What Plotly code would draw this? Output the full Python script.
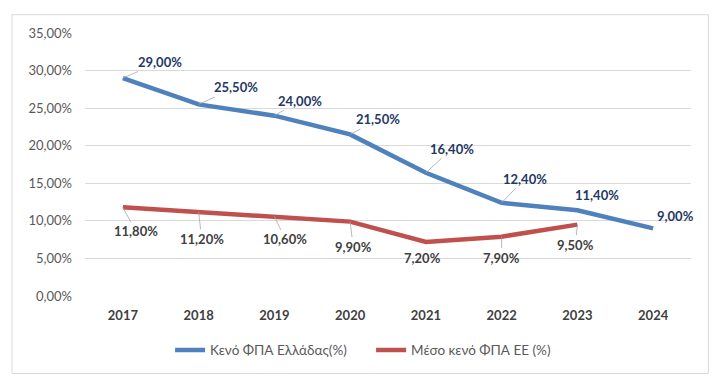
import plotly.graph_objects as go

years = ["2017", "2018", "2019", "2020", "2021", "2022", "2023", "2024"]
greece_gap = [29.0, 25.5, 24.0, 21.5, 16.4, 12.4, 11.4, 9.0]
eu_years = ["2017", "2018", "2019", "2020", "2021", "2022", "2023"]
eu_gap = [11.8, 11.2, 10.6, 9.9, 7.2, 7.9, 9.5]
series_names = ["Κενό ΦΠΑ Ελλάδας(%)", "Μέσο κενό ΦΠΑ ΕΕ (%)"]

gr_off = [(37, -16), (37, -17), (26, -15), (28, -15), (26, -24), (23, -24), (20, -15), (22, -12)]
gr_leader = [True, True, True, True, True, True, False, False]
eu_off = [(13, 24), (3, 27), (11, 23), (3, 25), (-3, 16), (0, 21), (-2, 20)]
eu_leader = [True, True, True, True, False, True, True]

BLUE = "#4F81BD"
RED = "#C0504D"
FONT = "Lato, sans-serif"

def fmt(v):
    return f"{v:.2f}".replace(".", ",") + "%"

fig = go.Figure()
fig.add_trace(go.Scatter(x=years, y=greece_gap, mode="lines", name=series_names[0],
                         line=dict(color=BLUE, width=4.5)))
fig.add_trace(go.Scatter(x=eu_years, y=eu_gap, mode="lines", name=series_names[1],
                         line=dict(color=RED, width=4.5)))

anns = []
for i, (v, (dx, dy), lead) in enumerate(zip(greece_gap, gr_off, gr_leader)):
    anns.append(go.layout.Annotation(
        x=i, y=v, xref="x", yref="y", text="<b>" + fmt(v) + "</b>",
        ax=dx, ay=dy, showarrow=True, arrowhead=0, arrowwidth=0.8,
        arrowcolor="#A6A6A6" if lead else "rgba(0,0,0,0)",
        font=dict(family=FONT, size=13, color="#1F3864")))
for i, (v, (dx, dy), lead) in enumerate(zip(eu_gap, eu_off, eu_leader)):
    anns.append(go.layout.Annotation(
        x=i, y=v, xref="x", yref="y", text="<b>" + fmt(v) + "</b>",
        ax=dx, ay=dy, showarrow=True, arrowhead=0, arrowwidth=0.8,
        arrowcolor="#A6A6A6" if lead else "rgba(0,0,0,0)",
        font=dict(family=FONT, size=13, color="#404040")))

fig.update_layout(
    annotations=anns,
    width=727, height=385,
    margin=dict(l=85, r=36, t=33, b=89),
    paper_bgcolor="white", plot_bgcolor="white",
    separators=",.",
    font=dict(family=FONT, size=13, color="#595959"),
    showlegend=True,
    legend=dict(orientation="h", x=0.1404, xanchor="left", y=-0.206, yanchor="middle",
                entrywidth=156, entrywidthmode="pixels",
                font=dict(family=FONT, size=13.5, color="#595959")),
    shapes=[dict(type="rect", xref="paper", yref="paper", x0=-0.1205, x1=1.0287,
                 y0=-0.2945, y1=1.0695, line=dict(color="#D9D9D9", width=1),
                 layer="below")],
    xaxis=dict(type="category", showgrid=False, zeroline=False, showline=False,
               ticks="", tickfont=dict(family=FONT, size=13, color="#404040"),
               tickprefix="<b>", ticksuffix="</b>",
               ticklabelstandoff=10, range=[-0.5, 7.5]),
    yaxis=dict(range=[0, 35], dtick=5, tickformat=".2f", ticksuffix="%",
               showgrid=True, gridcolor="#D9D9D9", gridwidth=1, zeroline=False,
               showline=False, ticks="", tickfont=dict(family=FONT, size=13, color="#595959"),
               ticklabelstandoff=12),
)

fig.write_html("out.html", config={"displayModeBar": False},
               post_script="document.body.style.margin='0';")
